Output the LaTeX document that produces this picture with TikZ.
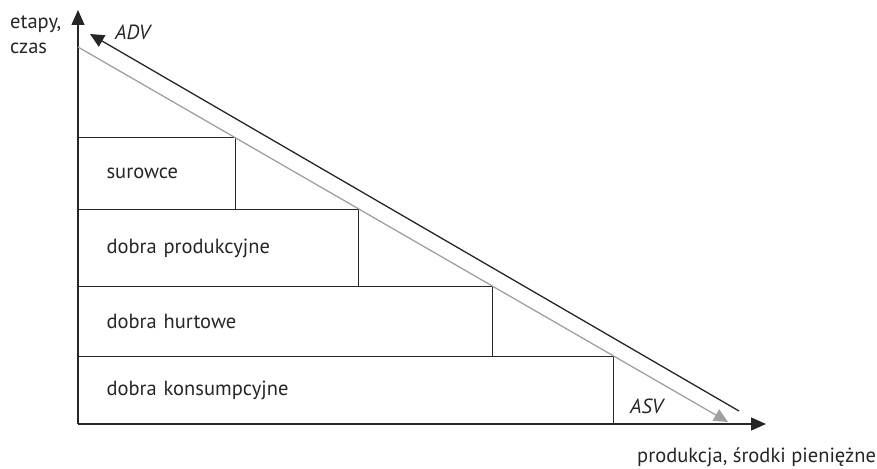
\documentclass[tikz,border=0pt]{standalone}
\usepackage{fontspec}
\setmainfont{PT Sans}
\usetikzlibrary{arrows.meta}
\definecolor{ink}{HTML}{262626}
\definecolor{lightline}{HTML}{A0A0A0}
\tikzset{
  stagebox/.style={draw=ink, line width=1.2pt, anchor=north west, inner xsep=28pt, inner ysep=0pt, align=left, text=ink, font=\fontsize{20.5}{22}\selectfont},
  lbl/.style={text=ink, font=\fontsize{20.5}{22}\selectfont, inner sep=0pt},
  axis/.style={draw=ink, line width=1.3pt, -{Triangle[length=15pt,width=13pt]}},
}
\begin{document}
\begin{tikzpicture}[x=1pt,y=-1pt]
\path[use as bounding box] (0,0) rectangle (877,468);
% boxes
\node[stagebox, minimum width=157pt, minimum height=72pt, text width=101pt] (sur) at (78,137) {surowce};
\node[stagebox, minimum width=280pt, minimum height=77pt, text width=224pt] (prod) at (78,209) {dobra produkcyjne};
\node[stagebox, minimum width=414pt, minimum height=70pt, text width=358pt] (hurt) at (78,286) {dobra hurtowe};
\node[stagebox, minimum width=535pt, minimum height=68pt, text width=479pt] (kons) at (78,356) {dobra konsumpcyjne};
% axes
\coordinate (O) at (78,424);
\coordinate (ytip) at (78,10);
\coordinate (xtip) at (766,424);
\draw[axis] (O) -- (ytip);
\draw[axis] (O) -- (xtip);
% diagonal lines
\coordinate (gs) at (78,47);
\coordinate (ge) at (728,422);
\draw[lightline, line width=1.3pt, -{Triangle[length=14pt,width=13pt]}] (gs) -- (ge);
\coordinate (bs) at (739,411);
\coordinate (be) at (90,34);
\draw[ink, line width=1.3pt, -{Triangle[length=14pt,width=13pt]}] (bs) -- (be);
% labels
\node[lbl, anchor=base west] (l1) at (10,29) {etapy,};
\node[lbl, anchor=base west] (l2) at (10,54) {czas};
\node[lbl, anchor=base west, font=\fontsize{20.5}{22}\selectfont\itshape] (adv) at (115,40) {ADV};
\node[lbl, anchor=base west, font=\fontsize{20.5}{22}\selectfont\itshape] (asv) at (630,413) {ASV};
\node[lbl, anchor=base west] (xl) at (637,462) {produkcja, środki pieniężne};
\end{tikzpicture}
\end{document}
